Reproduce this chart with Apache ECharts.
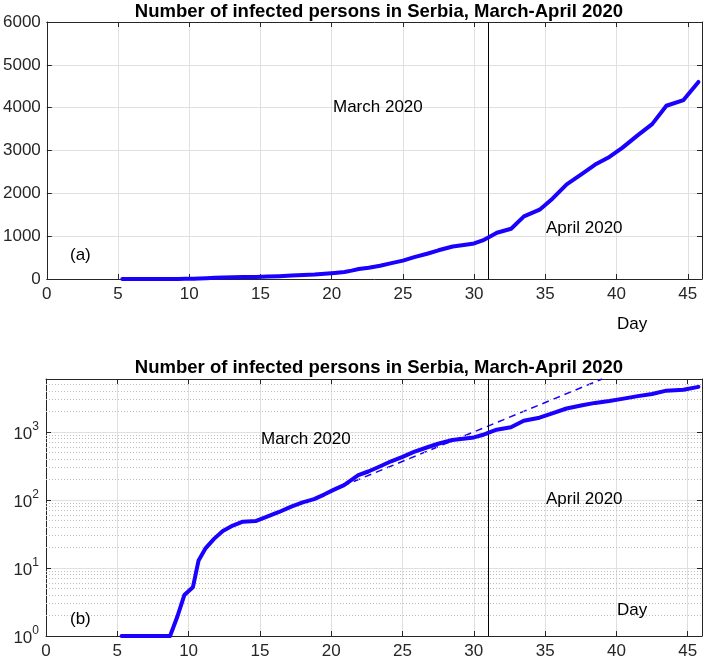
<!DOCTYPE html>
<html><head><meta charset="utf-8">
<script src="https://cdn.jsdelivr.net/npm/echarts@6/dist/echarts.min.js"></script>
<style>html,body{margin:0;padding:0;background:#fff}#c{width:705px;height:662px}</style>
</head><body><div id="c"></div>
<script>
// ---- data ----
const days  = [5.3, 6.5, 7.5, 8.7, 9.2, 9.7, 10.3, 10.7, 11.2, 11.8, 12.4, 13.1, 13.8, 14.7, 15.5, 16.3, 17.2, 18.0, 18.8, 19.5, 20.2, 20.9, 21.4, 21.9, 22.6, 23.4, 24.2, 25.0, 25.8, 26.7, 27.5, 28.5, 29.4, 30.0, 30.6, 31.0, 31.6, 32.6, 33.5, 34.6, 35.5, 36.5, 37.6, 38.5, 39.5, 40.4, 41.5, 42.5, 43.5, 44.7, 45.75];
const cases = [1, 1, 1, 1, 1.9, 4.0, 5.2, 12.9, 19.6, 27, 35, 42, 48, 49, 57, 66, 80, 92, 103, 120, 142, 165, 195, 232, 262, 310, 370, 430, 510, 590, 670, 760, 800, 830, 900, 970, 1080, 1173, 1461, 1618, 1876, 2211, 2461, 2672, 2850, 3061, 3358, 3616, 4045, 4178, 4600];
const fitDays  = [20.8, 39.0];
const fitCases = [160, 6000];
const xTicks   = [0, 5, 10, 15, 20, 25, 30, 35, 40, 45];
const linTicks = [0, 1000, 2000, 3000, 4000, 5000, 6000];
const logTicks = [1, 10, 100, 1000];
const minorLog = [2,3,4,5,6,7,8,9,20,30,40,50,60,70,80,90,200,300,400,500,600,700,800,900,2000,3000,4000,5000];
const monthLine = 31;
const titleText = 'Number of infected persons in Serbia, March-April 2020';

const FONT = 'Liberation Sans';
const AX = '#262626';
const GRID = '#e0e0e0';
const FS = 17;

const pairs = (xs, ys) => xs.map((x, i) => [x, ys[i]]);

function xAxisBase(gi, pos, labels) {
  return {
    type: 'value', gridIndex: gi, position: pos, min: 0, max: 46, interval: 5,
    axisLine: { show: true, onZero: false, lineStyle: { color: AX, width: 1 } },
    axisTick: { show: true, inside: true, length: 5, lineStyle: { color: AX } },
    axisLabel: { show: labels, color: AX, fontFamily: FONT, fontSize: FS, margin: 7,
      formatter: v => (xTicks.indexOf(v) >= 0 ? String(v) : '') },
    splitLine: { show: labels, lineStyle: { color: GRID, width: 1 } }
  };
}
function yLin(pos, labels) {
  return {
    type: 'value', gridIndex: 0, position: pos, min: 0, max: 6000, interval: 1000,
    axisLine: { show: true, onZero: false, lineStyle: { color: AX, width: 1 } },
    axisTick: { show: true, inside: true, length: 5, lineStyle: { color: AX } },
    axisLabel: { show: labels, color: AX, fontFamily: FONT, fontSize: FS, margin: 6,
      formatter: v => (linTicks.indexOf(v) >= 0 ? String(v) : '') },
    splitLine: { show: labels, lineStyle: { color: GRID, width: 1 } }
  };
}
function yLog(pos, labels) {
  return {
    type: 'log', logBase: 10, gridIndex: 1, position: pos, min: 1, max: 6000,
    axisLine: { show: true, onZero: false, lineStyle: { color: AX, width: 1 } },
    axisTick: { show: true, inside: true, length: 5, lineStyle: { color: AX } },
    axisLabel: { show: labels, color: AX, fontFamily: FONT, margin: 7,
      formatter: v => {
        const e = Math.log10(v);
        const r = Math.round(e);
        if (Math.abs(e - r) > 1e-6 || logTicks.indexOf(Math.pow(10, r)) < 0) return '';
        return '{b|10}{s|' + r + '}';
      },
      rich: {
        b: { fontFamily: FONT, fontSize: FS, color: AX, lineHeight: 22, verticalAlign: 'bottom' },
        s: { fontFamily: FONT, fontSize: 12, color: AX, lineHeight: 22, verticalAlign: 'top' }
      } },
    splitLine: { show: labels, lineStyle: { color: GRID, width: 1 } }
  };
}

const txt = (x, y, s) => ({
  type: 'text', left: x, top: y, z: 10,
  style: { text: s, fontFamily: FONT, fontSize: FS, fill: '#000' }
});

const chart = echarts.init(document.getElementById('c'), null, { renderer: 'canvas' });
chart.setOption({
  animation: false,
  backgroundColor: '#fff',
  title: [
    { text: titleText, left: 374, top: -3, textAlign: 'center',
      textStyle: { fontFamily: FONT, fontWeight: 'bold', fontSize: 18.5, color: '#000' } },
    { text: titleText, left: 374, top: 353, textAlign: 'center',
      textStyle: { fontFamily: FONT, fontWeight: 'bold', fontSize: 18.5, color: '#000' } }
  ],
  grid: [
    { left: 46, right: 3, top: 22, height: 257 },
    { left: 46, right: 3, top: 379, height: 257 }
  ],
  xAxis: [ xAxisBase(0, 'bottom', true), xAxisBase(0, 'top', false),
           xAxisBase(1, 'bottom', true), xAxisBase(1, 'top', false) ],
  yAxis: [ yLin('left', true), yLin('right', false), yLog('left', true), yLog('right', false) ],
  series: [
    { type: 'line', xAxisIndex: 0, yAxisIndex: 0, data: pairs(days, cases),
      showSymbol: false, symbol: 'none', z: 5,
      lineStyle: { color: '#1a00ff', width: 4, cap: 'round', join: 'round' },
      markLine: { silent: true, symbol: 'none', label: { show: false }, animation: false,
        lineStyle: { color: '#000', width: 1, type: 'solid' },
        data: [{ xAxis: monthLine }] } },
    { type: 'line', xAxisIndex: 2, yAxisIndex: 2, data: pairs(fitDays, fitCases),
      showSymbol: false, symbol: 'none', z: 3,
      lineStyle: { color: '#1a00ff', width: 1.5, type: [7, 5] },
      markLine: { silent: true, symbol: 'none', label: { show: false }, animation: false,
        lineStyle: { color: '#bdbdbd', width: 1, type: [1, 2] },
        data: minorLog.map(v => ({ yAxis: v })) } },
    { type: 'line', xAxisIndex: 2, yAxisIndex: 2, data: pairs(days, cases),
      showSymbol: false, symbol: 'none', z: 5,
      lineStyle: { color: '#1a00ff', width: 4, cap: 'round', join: 'round' },
      markLine: { silent: true, symbol: 'none', label: { show: false }, animation: false,
        lineStyle: { color: '#000', width: 1, type: 'solid' },
        data: [{ xAxis: monthLine }] } }
  ],
  graphic: [
    txt(333, 99, 'March 2020'),
    txt(546, 220, 'April 2020'),
    txt(70, 247, '(a)'),
    txt(617, 316, 'Day'),
    txt(261, 431, 'March 2020'),
    txt(546, 491, 'April 2020'),
    txt(70, 611, '(b)'),
    txt(617, 602, 'Day')
  ]
});
</script></body></html>
